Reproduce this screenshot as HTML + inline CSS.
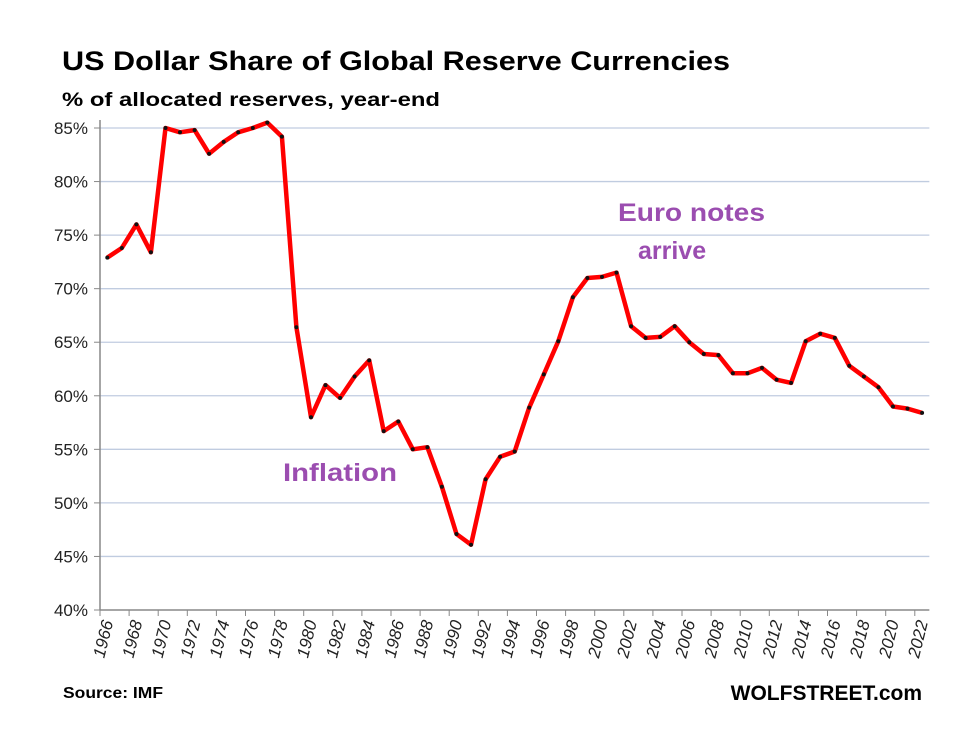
<!DOCTYPE html>
<html><head><meta charset="utf-8"><style>
body{margin:0;background:#fff;}
svg{display:block;font-family:"Liberation Sans",sans-serif;}
</style></head><body>
<svg id="c" width="975" height="746" viewBox="0 0 975 746" xmlns="http://www.w3.org/2000/svg">
<rect width="975" height="746" fill="#fff"/>
<text x="62" y="70" font-size="27" font-weight="bold" fill="#000" textLength="668" lengthAdjust="spacingAndGlyphs">US Dollar Share of Global  Reserve Currencies</text>
<text x="62" y="106" font-size="19" font-weight="bold" fill="#000" textLength="378" lengthAdjust="spacingAndGlyphs">% of allocated reserves, year-end</text>
<g id="grid"></g>
<text x="283" y="481" font-size="25" font-weight="bold" fill="#9b4db0" textLength="114" lengthAdjust="spacingAndGlyphs">Inflation</text>
<text x="618" y="221" font-size="25" font-weight="bold" fill="#9b4db0" textLength="147" lengthAdjust="spacingAndGlyphs">Euro notes</text>
<text x="638" y="259" font-size="25" font-weight="bold" fill="#9b4db0">arrive</text>
<text x="63" y="698" font-size="16" font-weight="bold" fill="#000" textLength="100" lengthAdjust="spacingAndGlyphs">Source: IMF</text>
<text x="922" y="700" font-size="21" font-weight="bold" fill="#000" text-anchor="end">WOLFSTREET.com</text>
</svg>
<script>
var d=[72.9,73.8,76.0,73.4,85.0,84.6,84.8,82.6,83.7,84.6,85.0,85.5,84.2,66.4,58.0,61.0,59.8,61.8,63.3,56.7,57.6,55.0,55.2,51.5,47.1,46.1,52.2,54.3,54.8,58.9,62.0,65.1,69.2,71.0,71.1,71.5,66.5,65.4,65.5,66.5,65.0,63.9,63.8,62.1,62.1,62.6,61.5,61.2,65.1,65.8,65.4,62.8,61.8,60.8,59.0,58.8,58.4];
var L=100,W=14.55,R=L+57*W;
function Y(v){return 610-(v-40)*10.711;}
var s='';
for(var v=40;v<=85;v+=5){var y=Y(v);
 if(v>40)s+='<line x1="'+L+'" x2="'+R+'" y1="'+y+'" y2="'+y+'" stroke="#c0cce0" stroke-width="1.3"/>';
 s+='<text x="88" y="'+(y+6)+'" font-size="17" text-anchor="end" fill="#222">'+v+'%</text>';
 s+='<line x1="94" x2="'+L+'" y1="'+y+'" y2="'+y+'" stroke="#888"/>';}
s+='<line x1="'+L+'" x2="'+L+'" y1="120" y2="610" stroke="#888" stroke-width="1.5"/>';
s+='<line x1="'+L+'" x2="'+R+'" y1="610" y2="610" stroke="#888" stroke-width="1.5"/>';
for(var i=0;i<=57;i+=2){var x=L+i*W;s+='<line x1="'+x+'" x2="'+x+'" y1="610" y2="616" stroke="#888"/>';}
for(var i=0;i<57;i+=2){var x=L+(i+0.5)*W+6;
 s+='<text transform="translate('+x+',622) rotate(-76)" font-size="17" font-style="italic" text-anchor="end" fill="#222">'+(1966+i)+'</text>';}
var p=d.map(function(v,i){return (L+(i+0.5)*W).toFixed(1)+','+Y(v).toFixed(1);});
s+='<polyline points="'+p.join(' ')+'" fill="none" stroke="#f00" stroke-width="4.5" stroke-linejoin="round"/>';
p.forEach(function(q){var a=q.split(',');s+='<circle cx="'+a[0]+'" cy="'+a[1]+'" r="2" fill="#111"/>';});
document.getElementById('grid').innerHTML=s;
</script>
</body></html>
